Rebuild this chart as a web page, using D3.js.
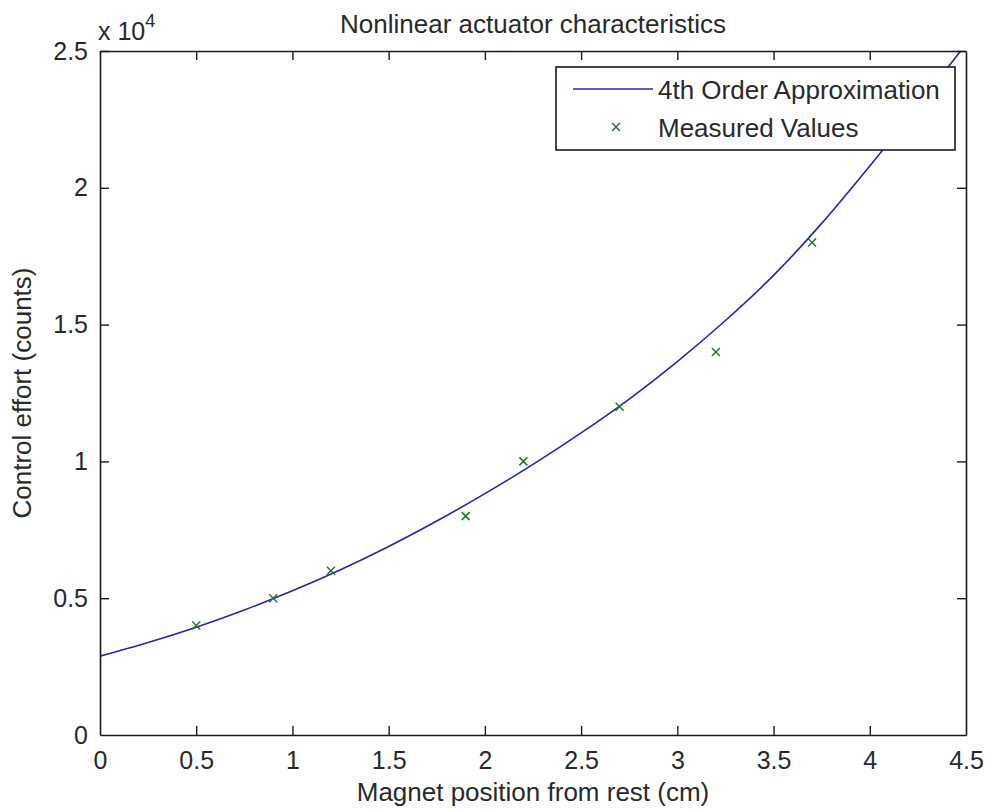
<!DOCTYPE html>
<html>
<head>
<meta charset="utf-8">
<script src="https://cdn.jsdelivr.net/npm/d3@7"></script>
<style>
  html, body { margin: 0; padding: 0; background: #fff; }
  svg text { font-family: "Liberation Sans", Arial, Helvetica, sans-serif; fill: #2a2a2a; }
</style>
</head>
<body>
<svg id="chart" width="987" height="809"></svg>
<script>
// Measured actuator data (position in cm, control effort in counts)
const measuredX = [0.5, 0.9, 1.2, 1.9, 2.2, 2.7, 3.2, 3.7];
const measuredY = [4000, 5000, 6000, 8000, 10000, 12000, 14000, 18000];

// 4th order approximation, sampled along the position axis
const fitX = [0, 0.25, 0.5, 0.75, 1.0, 1.25, 1.5, 1.75, 2.0, 2.25, 2.5, 2.75, 3.0, 3.25, 3.5, 3.75, 4.0, 4.25, 4.5];
const fitY = [2880, 3380, 3940, 4570, 5270, 6040, 6890, 7820, 8820, 9890, 11040, 12280, 13650, 15150, 16800, 18700, 20800, 23000, 25250];

// Axis ticks
const xTicks = [0, 0.5, 1, 1.5, 2, 2.5, 3, 3.5, 4, 4.5];
const yTicks = [0, 5000, 10000, 15000, 20000, 25000];
const yExponent = 4;

const title = "Nonlinear actuator characteristics";
const xLabel = "Magnet position from rest (cm)";
const yLabel = "Control effort (counts)";
const seriesNames = ["4th Order Approximation", "Measured Values"];

const svg = d3.select("#chart");
const margin = { left: 100, right: 21, top: 51, bottom: 74 };
const W = 987, H = 809;
const x0 = margin.left, x1 = W - margin.right, y0 = H - margin.bottom, y1 = margin.top;

const x = d3.scaleLinear().domain([0, 4.5]).range([x0, x1]);
const y = d3.scaleLinear().domain([0, 25000]).range([y0, y1]);

const fontSize = 26;
const tickFont = 25;
const tickLen = 9;
const axisColor = "#1a1a1a";
const lineColor = "#2626b0";
const markColor = "#1e7a28";

svg.append("defs").append("clipPath").attr("id", "plotClip")
  .append("rect").attr("x", x0).attr("y", y1).attr("width", x1 - x0).attr("height", y0 - y1);

// Curve
const fitData = fitX.map((v, i) => [v, fitY[i]]);
svg.append("path")
  .datum(fitData)
  .attr("clip-path", "url(#plotClip)")
  .attr("fill", "none")
  .attr("stroke", lineColor)
  .attr("stroke-width", 1.6)
  .attr("d", d3.line().x(d => x(d[0])).y(d => y(d[1])).curve(d3.curveCatmullRom.alpha(0.5)));

// Measured markers
const markerSize = 4;
const crossPath = s => `M${-s},${-s}L${s},${s}M${-s},${s}L${s},${-s}`;
svg.append("g").selectAll("path")
  .data(measuredX.map((v, i) => [v, measuredY[i]]))
  .join("path")
  .attr("transform", d => `translate(${x(d[0])},${y(d[1])})`)
  .attr("d", crossPath(markerSize))
  .attr("stroke", markColor)
  .attr("stroke-width", 1.5)
  .attr("fill", "none");

// Axes (box with inward ticks on all four sides)
const fmtY = d => d === 0 ? "0" : d3.format("~g")(d / Math.pow(10, yExponent));
const fmtX = d => d3.format("~g")(d);

const bottomAxis = d3.axisBottom(x).tickValues(xTicks).tickFormat(fmtX).tickSizeInner(-tickLen).tickSizeOuter(0).tickPadding(16);
const topAxis = d3.axisTop(x).tickValues(xTicks).tickFormat("").tickSizeInner(-tickLen).tickSizeOuter(0);
const leftAxis = d3.axisLeft(y).tickValues(yTicks).tickFormat(fmtY).tickSizeInner(-tickLen).tickSizeOuter(0).tickPadding(12);
const rightAxis = d3.axisRight(y).tickValues(yTicks).tickFormat("").tickSizeInner(-tickLen).tickSizeOuter(0);

function styleAxis(g) {
  g.select(".domain").attr("stroke", axisColor).attr("stroke-width", 1.6);
  g.selectAll(".tick line").attr("stroke", axisColor).attr("stroke-width", 1.4);
  g.selectAll(".tick text").attr("font-size", tickFont).attr("fill", "#2a2a2a")
    .attr("font-family", "'Liberation Sans', Arial, sans-serif");
}

svg.append("g").attr("transform", `translate(0,${y0})`).call(bottomAxis).call(styleAxis)
  .selectAll(".tick line").filter(d => d === 0 || d === 4.5).remove();
svg.append("g").attr("transform", `translate(0,${y1})`).call(topAxis).call(styleAxis)
  .selectAll(".tick line").filter(d => d === 0 || d === 4.5).remove();
svg.append("g").attr("transform", `translate(${x0},0)`).call(leftAxis).call(styleAxis)
  .selectAll(".tick line").filter(d => d === 0).remove();
svg.append("g").attr("transform", `translate(${x1},0)`).call(rightAxis).call(styleAxis)
  .selectAll(".tick line").filter(d => d === 0).remove();

// Exponent label
const expG = svg.append("text").attr("x", 98).attr("y", 40).attr("font-size", tickFont);
expG.append("tspan").text("x 10");
expG.append("tspan").attr("dy", -13).attr("font-size", 18).text(yExponent);

// Title and axis labels
svg.append("text").attr("x", (x0 + x1) / 2).attr("y", 33).attr("text-anchor", "middle")
  .attr("font-size", fontSize).text(title);
svg.append("text").attr("x", (x0 + x1) / 2).attr("y", 801).attr("text-anchor", "middle")
  .attr("font-size", fontSize).text(xLabel);
svg.append("text").attr("transform", `translate(31,${(y0 + y1) / 2}) rotate(-90)`)
  .attr("text-anchor", "middle").attr("font-size", fontSize).text(yLabel);

// Legend
const lg = svg.append("g");
lg.append("rect").attr("x", 556).attr("y", 67).attr("width", 399).attr("height", 83)
  .attr("fill", "#fff").attr("stroke", axisColor).attr("stroke-width", 1.6);
lg.append("line").attr("x1", 573).attr("x2", 653).attr("y1", 89).attr("y2", 89)
  .attr("stroke", lineColor).attr("stroke-width", 1.6);
lg.append("path").attr("transform", "translate(616,127)").attr("d", crossPath(markerSize))
  .attr("stroke", markColor).attr("stroke-width", 1.5).attr("fill", "none");
lg.append("text").attr("x", 658).attr("y", 99).attr("font-size", fontSize).text(seriesNames[0]);
lg.append("text").attr("x", 658).attr("y", 137).attr("font-size", fontSize).text(seriesNames[1]);
</script>
</body>
</html>
